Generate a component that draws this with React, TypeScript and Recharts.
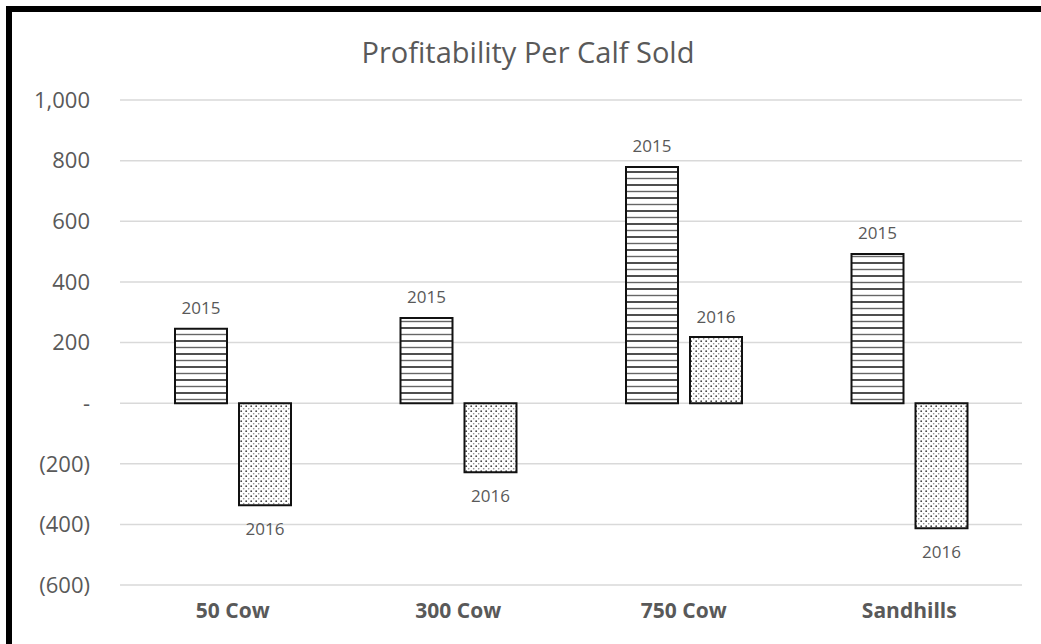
import { Bar, BarChart, CartesianGrid, LabelList, XAxis, YAxis } from "recharts";

const categories = ["50 Cow", "300 Cow", "750 Cow", "Sandhills"];
const values2015 = [245, 281, 779, 492];
const values2016 = [-337, -228, 218, -413];
const yTicks = [-600, -400, -200, 0, 200, 400, 600, 800, 1000];

const data = categories.map((name, i) => ({
  name,
  y2015: values2015[i],
  y2016: values2016[i],
}));

const FONT = "'Open Sans', 'Noto Sans', sans-serif";
const GRAY = "#595959";

function fmtTick(v: number) {
  if (v === 0) return "-";
  const s = Math.abs(v).toLocaleString("en-US");
  return v < 0 ? `(${s})` : s;
}

function yearLabel(year: string) {
  return (props: any) => {
    const { x, y, width, height, value } = props;
    const top = Math.min(y, y + height);
    const bottom = Math.max(y, y + height);
    const cy = value >= 0 ? top - 21 : bottom + 23;
    return (
      <text
        x={x + width / 2}
        y={cy}
        textAnchor="middle"
        dominantBaseline="central"
        fill={GRAY}
        fontSize={17}
        fontFamily={FONT}
      >
        {year}
      </text>
    );
  };
}

export default function App() {
  return (
    <div style={{ position: "absolute", left: 0, top: 0, width: 1041, height: 644, background: "#fff", overflow: "hidden" }}>
      <style>{"html,body{margin:0;overflow:hidden}"}</style>
      {/* frame: only the top and left edges show in the crop */}
      <div style={{ position: "absolute", left: 6, top: 6, width: 1035, height: 6, background: "#000" }} />
      <div style={{ position: "absolute", left: 6, top: 6, width: 6, height: 638, background: "#000" }} />
      <div
        style={{
          position: "absolute",
          left: 0,
          top: 33,
          width: 1056,
          textAlign: "center",
          fontFamily: FONT,
          fontSize: 29,
          lineHeight: "38px",
          color: GRAY,
        }}
      >
        Profitability Per Calf Sold
      </div>
      <div style={{ position: "absolute", left: 0, top: 0 }}>
        <BarChart
          width={1041}
          height={644}
          data={data}
          margin={{ top: 100, right: 19, left: 10, bottom: 9 }}
          barSize={52}
          barGap={12}
        >
          <defs>
            <pattern id="hlines" width="8" height="13" patternUnits="userSpaceOnUse">
              <rect width="8" height="13" fill="#fff" />
              <line x1="0" y1="3" x2="8" y2="3" stroke="#222" strokeWidth="1.6" />
              <line x1="0" y1="9.5" x2="8" y2="9.5" stroke="#666" strokeWidth="1.4" />
            </pattern>
            <pattern id="dots" width="5" height="5" patternUnits="userSpaceOnUse">
              <rect width="5" height="5" fill="#fff" />
              <circle cx="1.2" cy="1.2" r="0.9" fill="#444" />
              <circle cx="3.7" cy="3.7" r="0.8" fill="#888" />
            </pattern>
          </defs>
          <CartesianGrid vertical={false} stroke="#d9d9d9" strokeWidth={1.5} />
          <XAxis
            dataKey="name"
            height={50}
            axisLine={false}
            tickLine={false}
            tickSize={0}
            tickMargin={18}
            tick={{ fill: GRAY, fontSize: 21, fontWeight: 700, fontFamily: FONT }}
          />
          <YAxis
            width={110}
            domain={[-600, 1000]}
            ticks={yTicks}
            interval={0}
            axisLine={false}
            tickLine={false}
            tickSize={0}
            tickMargin={30}
            tickFormatter={fmtTick}
            tick={{ fill: GRAY, fontSize: 22, fontFamily: FONT }}
          />
          <Bar dataKey="y2015" fill="url(#hlines)" stroke="#111" strokeWidth={2} isAnimationActive={false}>
            <LabelList dataKey="y2015" content={yearLabel("2015")} />
          </Bar>
          <Bar dataKey="y2016" fill="url(#dots)" stroke="#111" strokeWidth={2} isAnimationActive={false}>
            <LabelList dataKey="y2016" content={yearLabel("2016")} />
          </Bar>
        </BarChart>
      </div>
    </div>
  );
}
